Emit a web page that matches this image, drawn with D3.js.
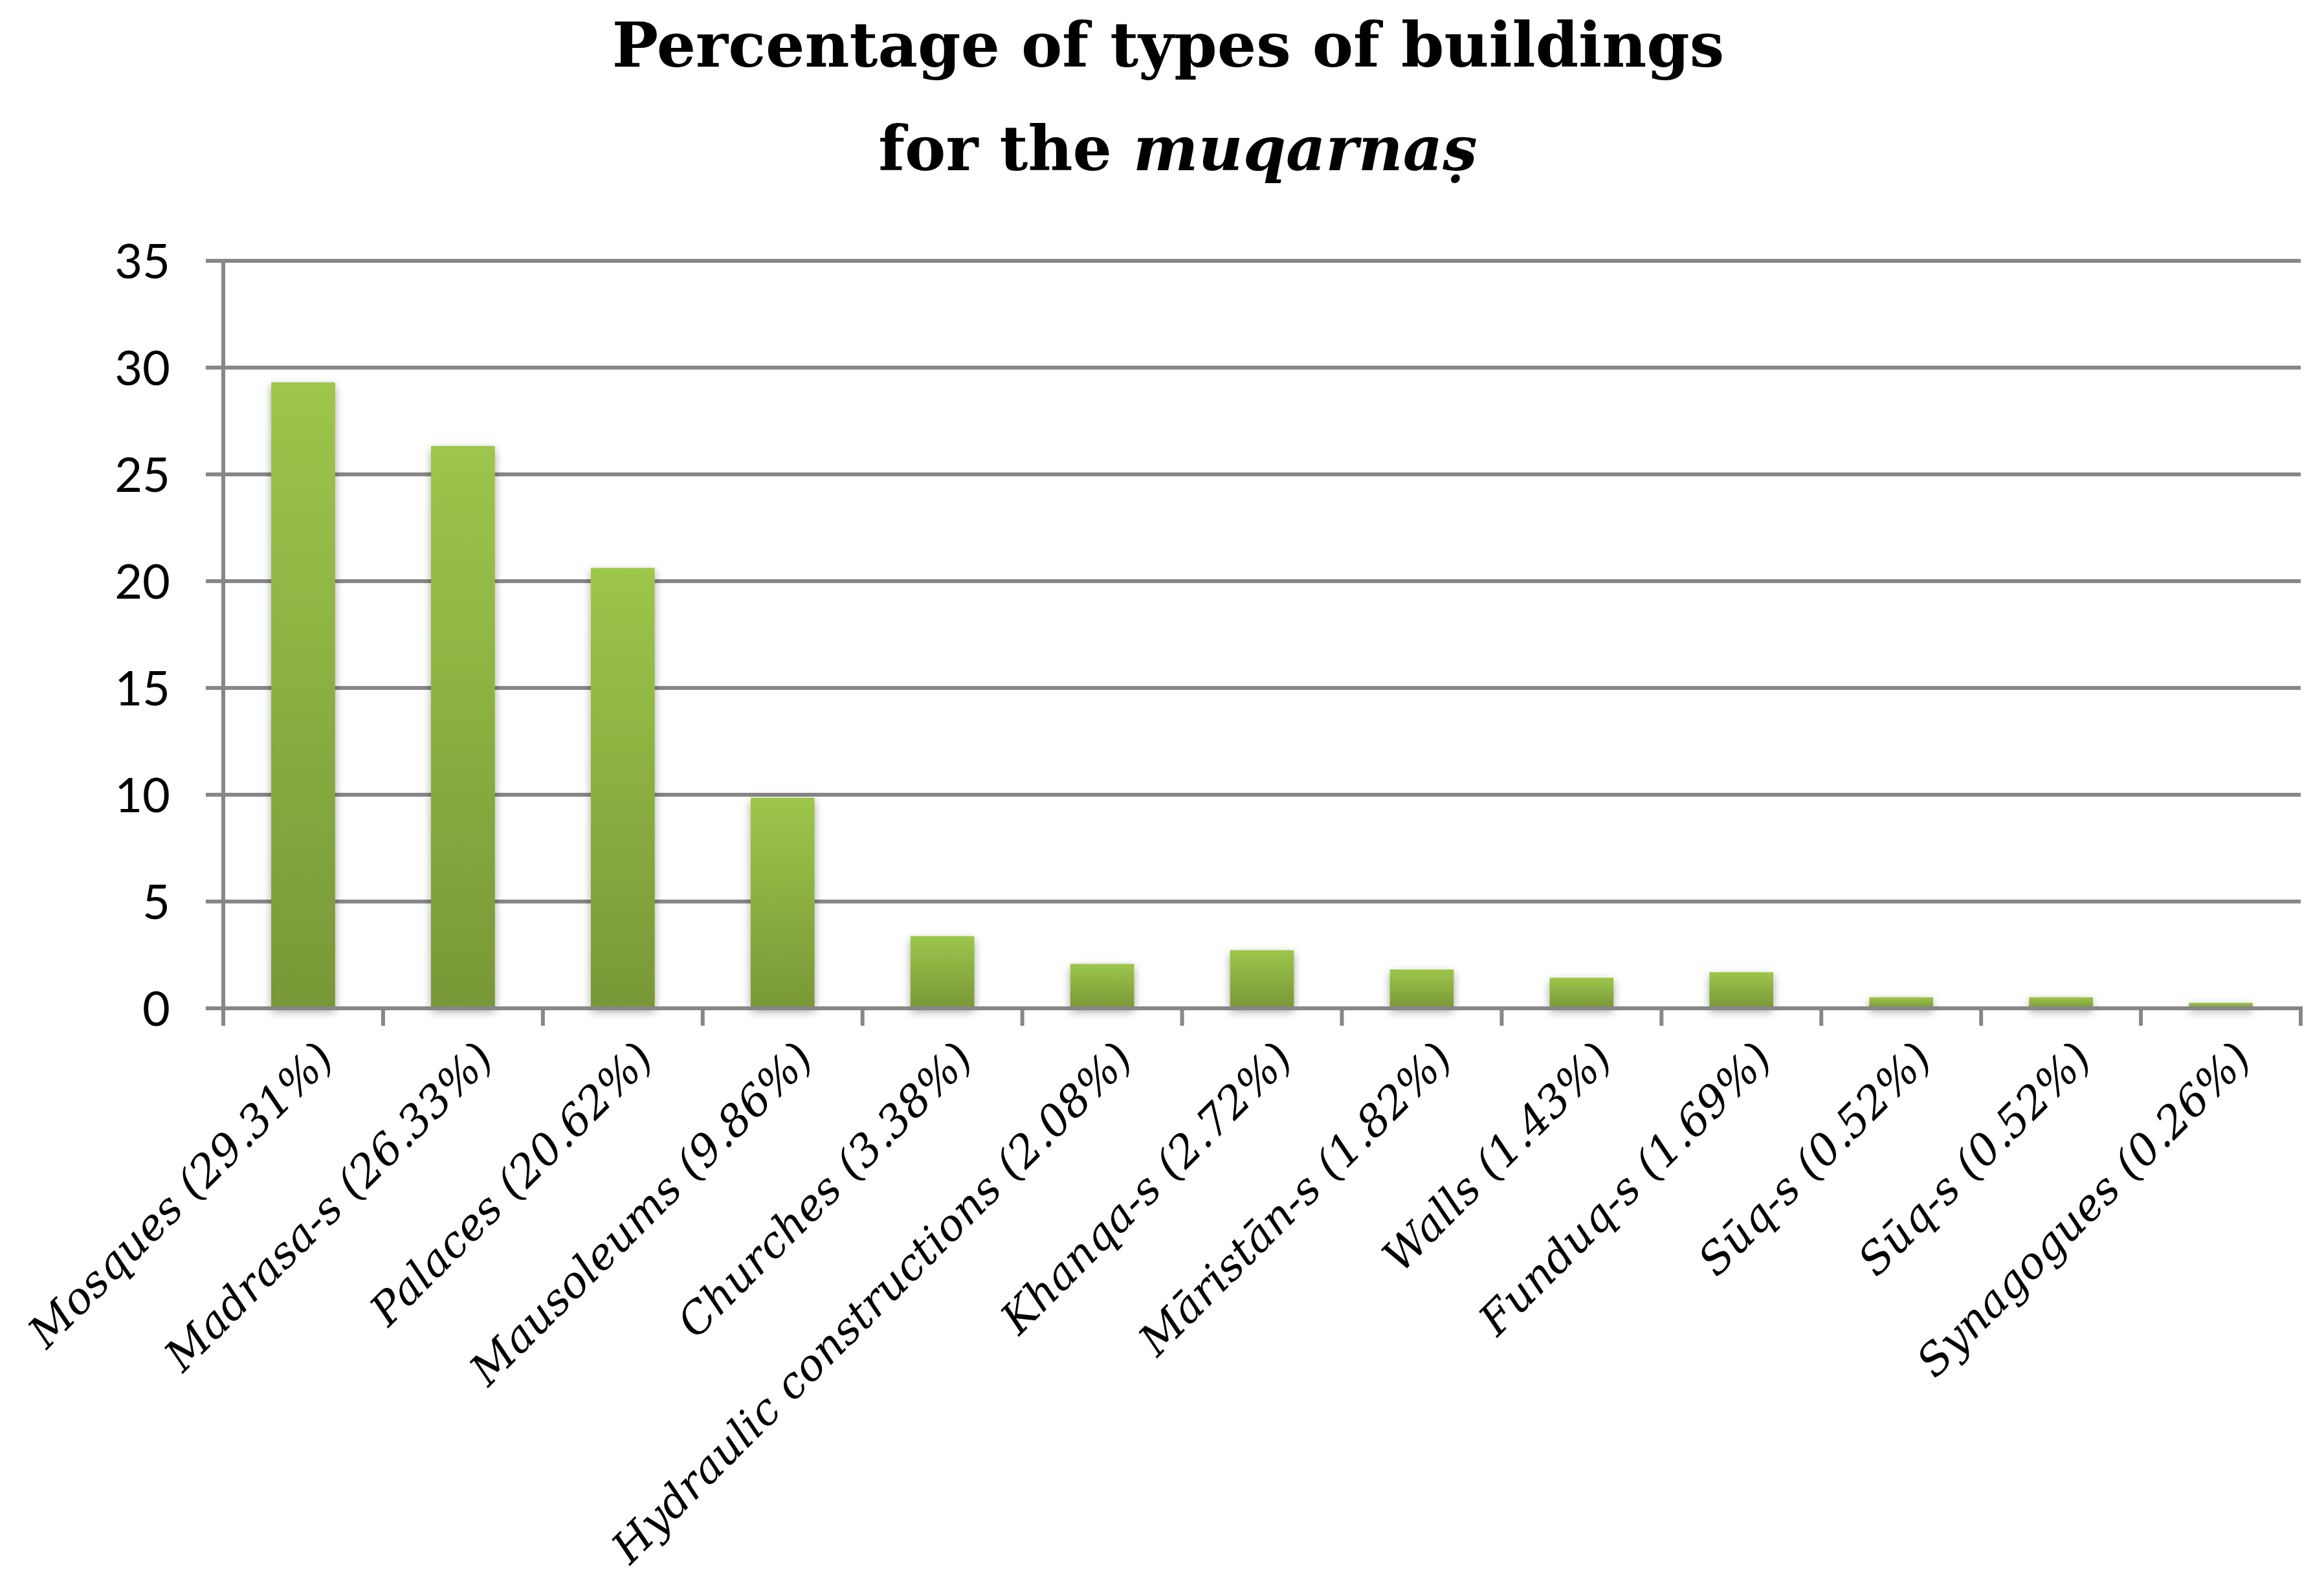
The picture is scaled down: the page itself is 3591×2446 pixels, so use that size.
<!DOCTYPE html>
<html>
<head>
<meta charset="utf-8">
<script src="https://cdn.jsdelivr.net/npm/d3@7"></script>
<style>
  html, body { margin: 0; padding: 0; background: #ffffff; }
  svg { display: block; }
</style>
</head>
<body>
<script>
// ---- data ----
const categories = [
  "Mosques (29.31%)", "Madrasa-s (26.33%)", "Palaces (20.62%)", "Mausoleums (9.86%)",
  "Churches (3.38%)", "Hydraulic constructions (2.08%)", "Khanqa-s (2.72%)",
  "M\u0101rist\u0101n-s (1.82%)", "Walls (1.43%)", "Funduq-s (1.69%)",
  "S\u016Bq-s (0.52%)", "S\u016Bq-s (0.52%)", "Synagogues (0.26%)"
];
const values = [29.31, 26.33, 20.62, 9.86, 3.38, 2.08, 2.72, 1.82, 1.43, 1.69, 0.52, 0.52, 0.26];
const yTicks = [0, 5, 10, 15, 20, 25, 30, 35];
const titleLine1 = "Percentage of types of buildings";
const titleLine2a = "for the ";
const titleLine2b = "muqarna\u1E63";

// ---- layout ----
const W = 3591, H = 2446;
const plotLeft = 345, plotRight = 3555, plotTop = 403, plotBottom = 1558;
const gridColor = "#878787";

const svg = d3.select("body").append("svg")
  .attr("width", W).attr("height", H)
  .attr("viewBox", `0 0 ${W} ${H}`);

const defs = svg.append("defs");
const grad = defs.append("linearGradient")
  .attr("id", "barGrad").attr("x1", 0).attr("y1", 0).attr("x2", 0).attr("y2", 1);
grad.append("stop").attr("offset", "0%").attr("stop-color", "#9DC64B");
grad.append("stop").attr("offset", "100%").attr("stop-color", "#789837");

const shadow = defs.append("filter").attr("id", "shadow")
  .attr("x", "-50%").attr("y", "-20%").attr("width", "200%").attr("height", "140%");
shadow.append("feGaussianBlur").attr("in", "SourceAlpha").attr("stdDeviation", 7).attr("result", "b");
shadow.append("feOffset").attr("in", "b").attr("dx", 0).attr("dy", 5).attr("result", "o");
shadow.append("feComponentTransfer").attr("in", "o").attr("result", "s")
  .append("feFuncA").attr("type", "linear").attr("slope", 0.35);
const merge = shadow.append("feMerge");
merge.append("feMergeNode").attr("in", "s");
merge.append("feMergeNode").attr("in", "SourceGraphic");

const x = d3.scaleBand()
  .domain(d3.range(categories.length))
  .range([plotLeft, plotRight])
  .paddingInner(0.6)
  .paddingOuter(0.3);

const y = d3.scaleLinear().domain([0, 35]).range([plotBottom, plotTop]);

// ---- title ----
const titleCx = 1805;
svg.append("text")
  .attr("x", titleCx).attr("y", 103)
  .attr("text-anchor", "middle")
  .style("font-family", "'DejaVu Serif', serif")
  .style("font-weight", "bold")
  .style("font-size", "95px")
  .attr("fill", "#000")
  .text(titleLine1);
const t2 = svg.append("text")
  .attr("x", titleCx + 15).attr("y", 263)
  .attr("text-anchor", "middle")
  .style("font-family", "'DejaVu Serif', serif")
  .style("font-weight", "bold")
  .style("font-size", "95px")
  .attr("fill", "#000");
t2.append("tspan").text(titleLine2a);
t2.append("tspan").style("font-style", "italic").text(titleLine2b);

// ---- gridlines ----
svg.append("g").selectAll("line.grid")
  .data(yTicks)
  .join("line")
  .attr("x1", plotLeft - 27).attr("x2", plotRight)
  .attr("y1", d => y(d)).attr("y2", d => y(d))
  .attr("stroke", gridColor).attr("stroke-width", 6);

// ---- y axis labels ----
const yAxis = d3.axisLeft(y).tickValues(yTicks).tickSize(0).tickPadding(0);
const gy = svg.append("g").attr("transform", `translate(${plotLeft - 82},0)`).call(yAxis);
gy.select(".domain").remove();
gy.selectAll("text")
  .attr("x", 0).attr("dy", "0.36em")
  .style("font-family", "Lato, 'Open Sans', sans-serif")
  .style("font-size", "74px")
  .attr("fill", "#000");

// ---- bars ----
svg.append("g").attr("filter", "url(#shadow)")
  .selectAll("rect")
  .data(values)
  .join("rect")
  .attr("x", (d, i) => x(i))
  .attr("width", x.bandwidth())
  .attr("y", d => y(d))
  .attr("height", d => y(0) - y(d))
  .attr("fill", "url(#barGrad)");

// ---- axes lines ----
svg.append("line")
  .attr("x1", plotLeft).attr("x2", plotLeft)
  .attr("y1", y(35)).attr("y2", plotBottom + 27)
  .attr("stroke", gridColor).attr("stroke-width", 6);
svg.append("line")
  .attr("x1", plotLeft - 27).attr("x2", plotRight + 3)
  .attr("y1", y(0)).attr("y2", y(0))
  .attr("stroke", gridColor).attr("stroke-width", 6);

const boundaries = d3.range(categories.length + 1).map(i => x.range()[0] + i * x.step());
svg.append("g").selectAll("line")
  .data(boundaries)
  .join("line")
  .attr("x1", d => d).attr("x2", d => d)
  .attr("y1", y(0)).attr("y2", y(0) + 27)
  .attr("stroke", gridColor).attr("stroke-width", 6);

// ---- x labels ----
svg.append("g").selectAll("text")
  .data(categories)
  .join("text")
  .attr("transform", (d, i) => `translate(${x(i) + x.bandwidth() / 2 + 14},${1602}) rotate(-45)`)
  .attr("text-anchor", "end")
  .attr("dy", "0.78em")
  .style("font-family", "'DejaVu Serif', serif")
  .style("font-style", "italic")
  .style("font-size", "67px")
  .attr("fill", "#000")
  .text(d => d);
</script>
</body>
</html>
